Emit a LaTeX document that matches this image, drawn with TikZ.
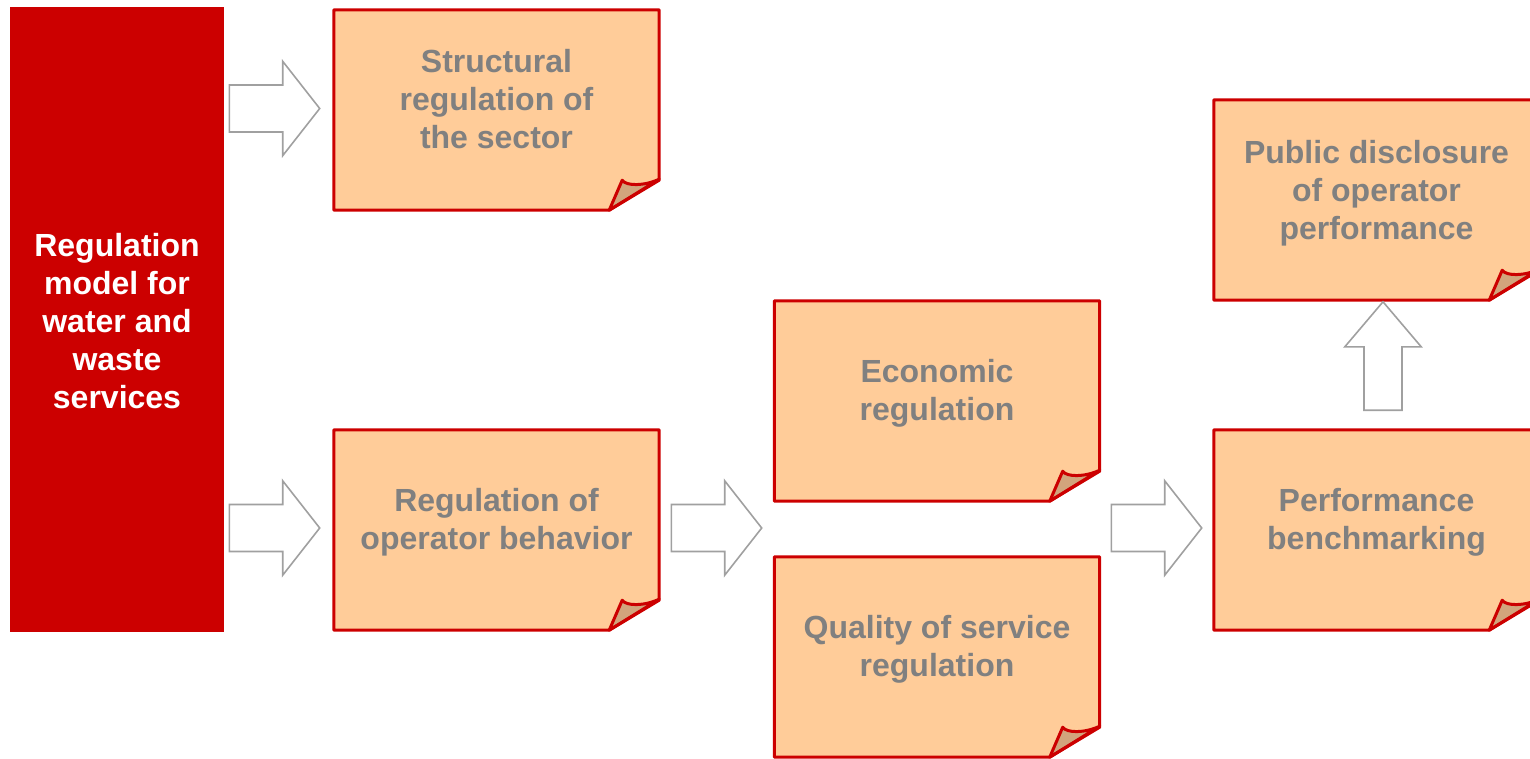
\documentclass[tikz,border=0pt]{standalone}
\usepackage{fontspec}
\setmainfont{Liberation Sans}
\usetikzlibrary{calc}

\definecolor{regred}{HTML}{CC0000}
\definecolor{notefill}{HTML}{FFCC99}
\definecolor{foldtan}{HTML}{D2A47C}
\definecolor{notegray}{HTML}{808080}
\definecolor{arrowgray}{HTML}{A0A0A0}

\tikzset{
  notebox/.style={rectangle, minimum width=325pt, minimum height=200pt, inner sep=0pt},
  notetext/.style={align=center, text=notegray, inner sep=0pt,
    font=\fontsize{32}{38}\selectfont\bfseries},
  modelbox/.style={rectangle, fill=regred, minimum width=214pt, minimum height=625pt,
    inner sep=0pt},
  modeltext/.style={align=center, text=white, inner sep=0pt,
    font=\fontsize{32}{38}\selectfont\bfseries},
  arrowslot/.style={rectangle, inner sep=0pt, minimum width=90pt, minimum height=94pt},
  upslot/.style={rectangle, inner sep=0pt, minimum width=76pt, minimum height=108pt},
  arrowline/.style={draw=arrowgray, fill=white, line width=1.6pt, line join=miter},
  noteline/.style={draw=regred, line width=3pt, line join=round}
}

% sticky note with a curled lower-right corner, drawn around a named node
\newcommand\drawnote[1]{%
  \fill[notefill] (#1.north west) -- (#1.north east) -- ($(#1.south east)+(0,-30)$)
    -- ($(#1.south east)+(-50,0)$) -- (#1.south west) -- cycle;
  \filldraw[fill=foldtan, noteline] ($(#1.south east)+(-50,0)$)
    -- ($(#1.south east)+(-37,-30)$)
    .. controls ($(#1.south east)+(-33,-24)$) and ($(#1.south east)+(-15,-24)$)
    .. ($(#1.south east)+(0,-31)$) -- cycle;
  \draw[noteline] (#1.north west) -- (#1.north east) -- ($(#1.south east)+(0,-30)$)
    -- ($(#1.south east)+(-50,0)$) -- (#1.south west) -- cycle;
}

% outlined block arrow pointing right, filling a named slot
\newcommand\rightblock[1]{%
  \path[arrowline] ($(#1.west)+(0,-23.5)$) -- ($(#1.east)+(-37,-23.5)$)
    -- ($(#1.north east)+(-37,0)$) -- (#1.east) -- ($(#1.south east)+(-37,0)$)
    -- ($(#1.east)+(-37,23.5)$) -- ($(#1.west)+(0,23.5)$) -- cycle;
}

% outlined block arrow pointing up, filling a named slot
\newcommand\upblock[1]{%
  \path[arrowline] (#1.north) -- ($(#1.north east)+(0,45)$) -- ($(#1.north)+(19,45)$)
    -- ($(#1.south)+(19,0)$) -- ($(#1.south)+(-19,0)$) -- ($(#1.north)+(-19,45)$)
    -- ($(#1.north west)+(0,45)$) -- cycle;
}

\begin{document}
\begin{tikzpicture}[x=1pt, y=-1pt]
  \useasboundingbox (0,0) rectangle (1530,759);
  \clip (0,0) rectangle (1530,759);

  % main model block
  \node[modelbox] (model) at (117,319.5) {};
  \node[modeltext] (modelT) at ($(model)+(0,2)$) {Regulation\\model for\\water and\\waste\\services};

  % regulation notes
  \node[notebox] (struct) at (496.5,110) {};
  \node[notebox] (behav)  at (496.5,530) {};
  \node[notebox] (econ)   at (937,401) {};
  \node[notebox] (qual)   at (937,657) {};
  \node[notebox] (public) at (1376.5,200) {};
  \node[notebox] (bench)  at (1376.5,530) {};

  \drawnote{struct}
  \drawnote{behav}
  \drawnote{econ}
  \drawnote{qual}
  \drawnote{public}
  \drawnote{bench}

  \node[notetext] (structT) at ($(struct)+(0,-11)$) {Structural\\regulation of\\the sector};
  \node[notetext] (behavT)  at ($(behav)+(0,-8)$)   {Regulation of\\operator behavior};
  \node[notetext] (econT)   at ($(econ)+(0,-8)$)    {Economic\\regulation};
  \node[notetext] (qualT)   at ($(qual)+(0,-8)$)    {Quality of service\\regulation};
  \node[notetext] (publicT) at ($(public)+(0,-7)$)  {Public disclosure\\of operator\\performance};
  \node[notetext] (benchT)  at ($(bench)+(0,-8)$)   {Performance\\benchmarking};

  % block arrows between the stages
  \node[arrowslot] (a1) at (274.5,108.5) {};
  \node[arrowslot] (a2) at (274.5,528) {};
  \node[arrowslot] (a3) at (716.5,528) {};
  \node[arrowslot] (a4) at (1156.5,528) {};
  \node[upslot]    (a5) at (1383,356) {};
  \rightblock{a1}
  \rightblock{a2}
  \rightblock{a3}
  \rightblock{a4}
  \upblock{a5}
\end{tikzpicture}
\end{document}
